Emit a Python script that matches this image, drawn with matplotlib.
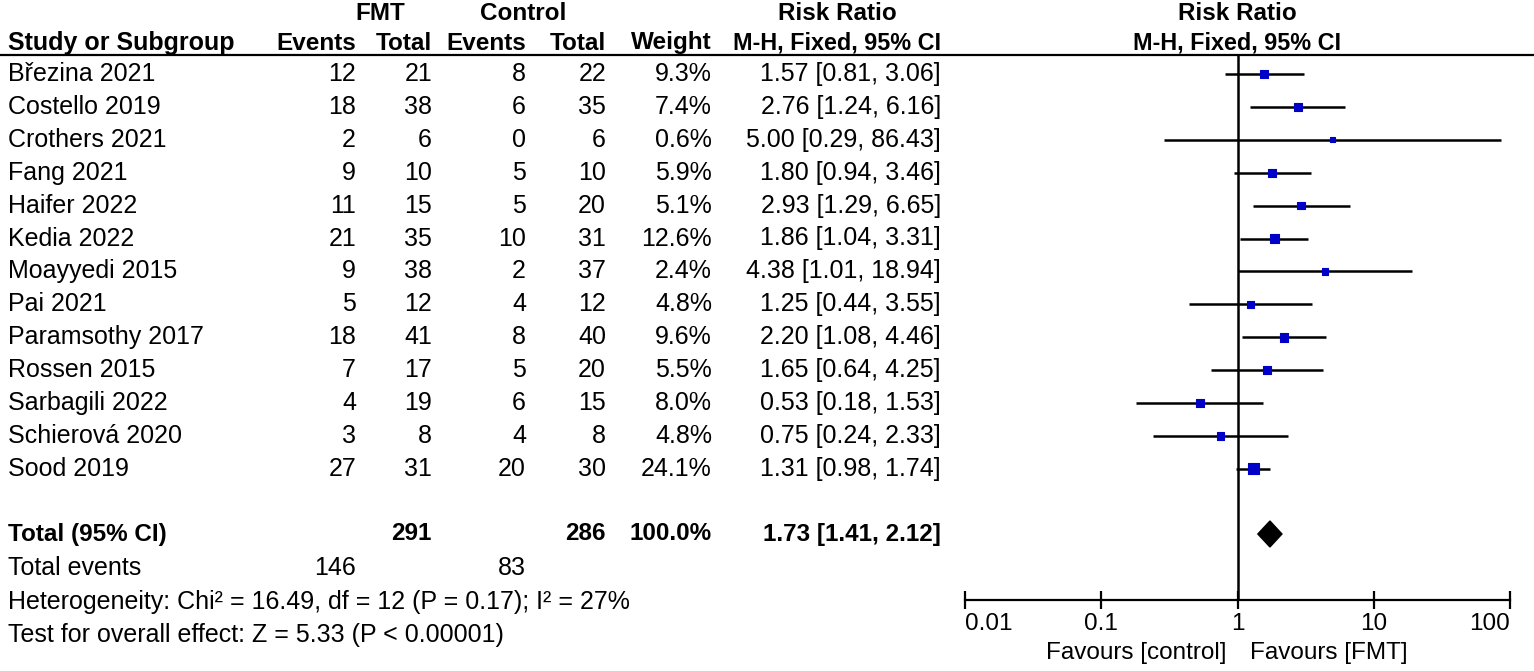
import matplotlib
matplotlib.use("Agg")
import matplotlib.pyplot as plt
from matplotlib.patches import Polygon
import numpy as np

# ---------------- data ----------------
studies = ["Březina 2021", "Costello 2019", "Crothers 2021", "Fang 2021", "Haifer 2022",
           "Kedia 2022", "Moayyedi 2015", "Pai 2021", "Paramsothy 2017", "Rossen 2015",
           "Sarbagili 2022", "Schierová 2020", "Sood 2019"]
fmt_events = [12, 18, 2, 9, 11, 21, 9, 5, 18, 7, 4, 3, 27]
fmt_total = [21, 38, 6, 10, 15, 35, 38, 12, 41, 17, 19, 8, 31]
ctl_events = [8, 6, 0, 5, 5, 10, 2, 4, 8, 5, 6, 4, 20]
ctl_total = [22, 35, 6, 10, 20, 31, 37, 12, 40, 20, 15, 8, 30]
weights = [9.3, 7.4, 0.6, 5.9, 5.1, 12.6, 2.4, 4.8, 9.6, 5.5, 8.0, 4.8, 24.1]
rr = [1.57, 2.76, 5.00, 1.80, 2.93, 1.86, 4.38, 1.25, 2.20, 1.65, 0.53, 0.75, 1.31]
ci_lo = [0.81, 1.24, 0.29, 0.94, 1.29, 1.04, 1.01, 0.44, 1.08, 0.64, 0.18, 0.24, 0.98]
ci_hi = [3.06, 6.16, 86.43, 3.46, 6.65, 3.31, 18.94, 3.55, 4.46, 4.25, 1.53, 2.33, 1.74]

total_fmt_n = 291
total_ctl_n = 286
total_fmt_events = 146
total_ctl_events = 83
total_weight = 100.0
total_rr = 1.73
total_lo = 1.41
total_hi = 2.12

heterogeneity_text = "Heterogeneity: Chi² = 16.49, df = 12 (P = 0.17); I² = 27%"
overall_text = "Test for overall effect: Z = 5.33 (P < 0.00001)"

tick_values = [0.01, 0.1, 1, 10, 100]
tick_labels = ["0.01", "0.1", "1", "10", "100"]
favours_left = "Favours [control]"
favours_right = "Favours [FMT]"

# ---------------- layout ----------------
W, H = 1534, 671
plt.rcParams['font.family'] = ['Liberation Sans', 'DejaVu Sans']
FS = 18
FSH = 17.5
fig = plt.figure(figsize=(W / 100, H / 100), dpi=100)
ax0 = fig.add_axes([0, 0, 1, 1])
ax0.set_xlim(0, W)
ax0.set_ylim(H, 0)
ax0.axis('off')

# forest panel axes (x: log RR, y: pixel rows)
px_left, px_right, px_top, px_axis = 965, 1510, 55, 600
ax = fig.add_axes([px_left / W, (H - px_axis) / H, (px_right - px_left) / W, (px_axis - px_top) / H])
ax.set_xscale('log')
ax.set_xlim(tick_values[0], tick_values[-1])
ax.set_ylim(px_axis, px_top)
ax.patch.set_alpha(0)
for s in ['top', 'left', 'right']:
    ax.spines[s].set_visible(False)
ax.spines['bottom'].set_linewidth(1.6)
ax.set_yticks([])
ax.set_xticks(tick_values)
ax.set_xticklabels(tick_labels, fontsize=17.5)
ax.minorticks_off()
ax.tick_params(axis='x', direction='inout', length=13, width=1.6, pad=3)
lbls = ax.get_xticklabels()
lbls[0].set_ha('left')
lbls[-1].set_ha('right')

# column right edges
c_fe, c_ft, c_ce, c_ct, c_w, c_rr = 356, 432, 526, 606, 712, 941
x_name = 8

y_top_head = 14
y_head = 43
row0 = 74
row_step = 32.9
rows = [row0 + i * row_step for i in range(len(studies))]
y_total = 534
y_events = 568
y_het = 602
y_test = 635

# header lines
ax0.text(380, y_top_head, "FMT", ha='center', va='center', fontsize=FSH, fontweight='bold')
ax0.text(523, y_top_head, "Control", ha='center', va='center', fontsize=FSH, fontweight='bold')
ax0.text(837, y_top_head, "Risk Ratio", ha='center', va='center', fontsize=FSH, fontweight='bold')
ax0.text(1237, y_top_head, "Risk Ratio", ha='center', va='center', fontsize=FSH, fontweight='bold')

ax0.text(x_name, y_head, "Study or Subgroup", ha='left', va='center', fontsize=FS, fontweight='bold')
for x, t in [(c_fe, "Events"), (c_ft, "Total"), (c_ce, "Events"), (c_ct, "Total"),
             (c_w, "Weight")]:
    ax0.text(x, y_head, t, ha='right', va='center', fontsize=FSH, fontweight='bold')
ax0.text(c_rr, y_head, "M-H, Fixed, 95% CI", ha='right', va='center', fontsize=16.8, fontweight='bold')
ax0.text(1237, y_head, "M-H, Fixed, 95% CI", ha='center', va='center', fontsize=16.8, fontweight='bold')

ax0.plot([0, W], [px_top, px_top], color='black', lw=1.6, solid_capstyle='butt')

# study rows
for i, y in enumerate(rows):
    ax0.text(x_name, y, studies[i], ha='left', va='center', fontsize=FS)
    ax0.text(c_fe, y, str(fmt_events[i]), ha='right', va='center', fontsize=FS)
    ax0.text(c_ft, y, str(fmt_total[i]), ha='right', va='center', fontsize=FS)
    ax0.text(c_ce, y, str(ctl_events[i]), ha='right', va='center', fontsize=FS)
    ax0.text(c_ct, y, str(ctl_total[i]), ha='right', va='center', fontsize=FS)
    ax0.text(c_w, y, f"{weights[i]:.1f}%", ha='right', va='center', fontsize=FS)
    ax0.text(c_rr, y, f"{rr[i]:.2f} [{ci_lo[i]:.2f}, {ci_hi[i]:.2f}]", ha='right', va='center', fontsize=FS)

# totals
ax0.text(x_name, y_total, "Total (95% CI)", ha='left', va='center', fontsize=FSH, fontweight='bold')
ax0.text(c_ft, y_total, str(total_fmt_n), ha='right', va='center', fontsize=FSH, fontweight='bold')
ax0.text(c_ct, y_total, str(total_ctl_n), ha='right', va='center', fontsize=FSH, fontweight='bold')
ax0.text(c_w, y_total, f"{total_weight:.1f}%", ha='right', va='center', fontsize=FSH, fontweight='bold')
ax0.text(c_rr, y_total, f"{total_rr:.2f} [{total_lo:.2f}, {total_hi:.2f}]", ha='right', va='center',
         fontsize=FSH, fontweight='bold')
ax0.text(x_name, y_events, "Total events", ha='left', va='center', fontsize=FS)
ax0.text(c_fe, y_events, str(total_fmt_events), ha='right', va='center', fontsize=FS)
ax0.text(c_ce, y_events, str(total_ctl_events), ha='right', va='center', fontsize=FS)
ax0.text(x_name, y_het, heterogeneity_text, ha='left', va='center', fontsize=FS)
ax0.text(x_name, y_test, overall_text, ha='left', va='center', fontsize=FS)

# forest marks
ax.axvline(1, color='black', lw=1.8, zorder=2)
ax.hlines(rows, ci_lo, ci_hi, color='black', lw=1.8, zorder=3)
side_px = 4.0 + 1.5 * np.sqrt(np.array(weights))
ax.scatter(rr, rows, marker='s', s=(side_px * 0.72) ** 2, color='#0000C8', edgecolors='#0000C8',
           linewidths=0.8, zorder=4)

half_h = 13
diamond = Polygon([(total_lo, y_total), (total_rr, y_total - half_h), (total_hi, y_total),
                   (total_rr, y_total + half_h)], closed=True, facecolor='black', edgecolor='black',
                  zorder=5, clip_on=False)
ax.add_patch(diamond)

# favours labels
ax0.text(1226, 653, favours_left, ha='right', va='center', fontsize=17.5)
ax0.text(1250, 653, favours_right, ha='left', va='center', fontsize=17.5)

fig.savefig("out.png", dpi=100)
